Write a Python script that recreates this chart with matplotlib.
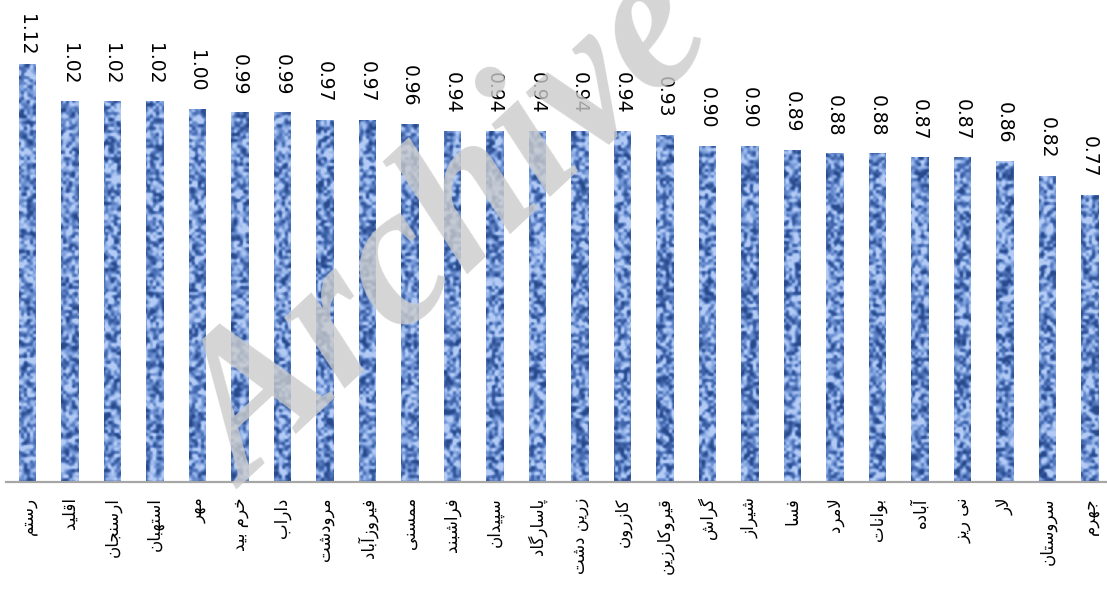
import numpy as np
import matplotlib
matplotlib.use("Agg")
import matplotlib.pyplot as plt
from matplotlib.path import Path
from matplotlib.colors import LinearSegmentedColormap

# Counties (Persian names) and their values
counties = [
    "رستم", "اقلید", "ارسنجان", "استهبان", "مهر", "خرم بید", "داراب",
    "مرودشت", "فیروزآباد", "ممسنی", "فراشبند", "سپیدان", "پاسارگاد",
    "زرین دشت", "کازرون", "قیروکارزین", "گراش", "شیراز", "فسا", "لامرد",
    "بوانات", "آباده", "نی ریز", "لار", "سروستان", "جهرم",
]
values = [
    1.12, 1.02, 1.02, 1.02, 1.00, 0.99, 0.99, 0.97, 0.97, 0.96, 0.94, 0.94,
    0.94, 0.94, 0.94, 0.93, 0.90, 0.90, 0.89, 0.88, 0.88, 0.87, 0.87, 0.86,
    0.82, 0.77,
]

# --- minimal Arabic-script shaping (contextual forms + visual order) ---
FORMS = {
    "ا": ("\uFE8D", "\uFE8E", None, None),
    "آ": ("\uFE81", "\uFE82", None, None),
    "ب": ("\uFE8F", "\uFE90", "\uFE91", "\uFE92"),
    "پ": ("\uFB56", "\uFB57", "\uFB58", "\uFB59"),
    "ت": ("\uFE95", "\uFE96", "\uFE97", "\uFE98"),
    "ج": ("\uFE9D", "\uFE9E", "\uFE9F", "\uFEA0"),
    "خ": ("\uFEA5", "\uFEA6", "\uFEA7", "\uFEA8"),
    "د": ("\uFEA9", "\uFEAA", None, None),
    "ر": ("\uFEAD", "\uFEAE", None, None),
    "ز": ("\uFEAF", "\uFEB0", None, None),
    "س": ("\uFEB1", "\uFEB2", "\uFEB3", "\uFEB4"),
    "ش": ("\uFEB5", "\uFEB6", "\uFEB7", "\uFEB8"),
    "ف": ("\uFED1", "\uFED2", "\uFED3", "\uFED4"),
    "ق": ("\uFED5", "\uFED6", "\uFED7", "\uFED8"),
    "ک": ("\uFB8E", "\uFB8F", "\uFB90", "\uFB91"),
    "گ": ("\uFB92", "\uFB93", "\uFB94", "\uFB95"),
    "ل": ("\uFEDD", "\uFEDE", "\uFEDF", "\uFEE0"),
    "م": ("\uFEE1", "\uFEE2", "\uFEE3", "\uFEE4"),
    "ن": ("\uFEE5", "\uFEE6", "\uFEE7", "\uFEE8"),
    "ه": ("\uFEE9", "\uFEEA", "\uFEEB", "\uFEEC"),
    "و": ("\uFEED", "\uFEEE", None, None),
    "ی": ("\uFBFC", "\uFBFD", "\uFBFE", "\uFBFF"),
}
LAM_ALEF = {"ا": ("\uFEFB", "\uFEFC"), "آ": ("\uFEF5", "\uFEF6")}


def joins_next(ch):
    return ch in FORMS and FORMS[ch][2] is not None


def shape(text):
    out = []
    chars = list(text)
    i = 0
    while i < len(chars):
        ch = chars[i]
        prev = chars[i - 1] if i > 0 else None
        nxt = chars[i + 1] if i + 1 < len(chars) else None
        jp = prev is not None and joins_next(prev) and ch in FORMS
        if ch == "ل" and nxt in LAM_ALEF:
            out.append(LAM_ALEF[nxt][1 if jp else 0])
            i += 2
            continue
        if ch not in FORMS:
            out.append(ch)
            i += 1
            continue
        jn = joins_next(ch) and nxt is not None and nxt in FORMS
        iso, fin, ini, med = FORMS[ch]
        if jp and jn:
            out.append(med)
        elif jp:
            out.append(fin)
        elif jn:
            out.append(ini)
        else:
            out.append(iso)
        i += 1
    return "".join(reversed(out))


labels = [shape(c) for c in counties]

# --- figure layout ---
W, H = 1107, 598
fig = plt.figure(figsize=(W / 100, H / 100), dpi=100)
ax = fig.add_axes([6.25 / W, 116 / H, 1105 / W, 448 / H])
x = np.arange(len(values))
ax.set_xlim(-0.5, len(values) - 0.5)
ax.set_ylim(0, 1.2)

bars = ax.bar(x, values, width=0.42, color="#5A7DC0", zorder=2)

# woven blue texture filling the bars
rng = np.random.default_rng(7)
th, tw = 448, 1105
noise = rng.random((th // 3 + 2, tw // 3 + 2))
noise = np.kron(noise, np.ones((3, 3)))[:th, :tw]
k = np.ones(3) / 3
for _ in range(2):
    noise = np.apply_along_axis(lambda r: np.convolve(r, k, mode="same"), 1, noise)
    noise = np.apply_along_axis(lambda c: np.convolve(c, k, mode="same"), 0, noise)
noise = (noise - noise.min()) / (noise.max() - noise.min())
noise = np.clip((noise - 0.5) * 1.6 + 0.55, 0, 1)
tex_cmap = LinearSegmentedColormap.from_list(
    "denim", ["#28498A", "#4B6FB5", "#7B9EDC", "#B3CBF4"])
im = ax.imshow(noise, cmap=tex_cmap, extent=(-0.5, len(values) - 0.5, 0, 1.2),
               aspect="auto", interpolation="bilinear", zorder=3)
paths = [b.get_path().transformed(b.get_patch_transform()) for b in bars]
im.set_clip_path(Path.make_compound_path(*paths), ax.transData)

# value labels above the bars, kept inside the figure
px_per_pt = fig.dpi / 72.0
label_len_px = 42
for xi, v in zip(x, values):
    top_px = H - ax.transData.transform((xi, v))[1]
    gap = min(17, top_px - label_len_px - 13)
    ax.annotate(f"{v:.2f}", xy=(xi, v), xytext=(-0.5, gap / px_per_pt),
                textcoords="offset points", rotation=-90, ha="center",
                va="bottom", fontsize=13.5, color="#000000",
                family="DejaVu Sans", annotation_clip=False, zorder=5)

ax.set_xticks(x)
ax.set_xticklabels(labels, rotation=90, ha="center", va="top", fontsize=12,
                   family=["DejaVu Sans"])
ax.tick_params(axis="x", length=0, pad=11)
ax.set_yticks([])
for side in ("left", "top", "right"):
    ax.spines[side].set_visible(False)
ax.spines["bottom"].set_color("#A6A6A6")
ax.spines["bottom"].set_linewidth(1.6)
ax.spines["bottom"].set_zorder(6)

# watermark
fig.text(0.408, 0.61, "Archive", rotation=43, fontsize=145,
         family="Liberation Serif", weight="bold", style="italic",
         color="#CBCBCB", alpha=0.8, ha="center", va="center", zorder=10)

fig.savefig("out.png", dpi=100)
